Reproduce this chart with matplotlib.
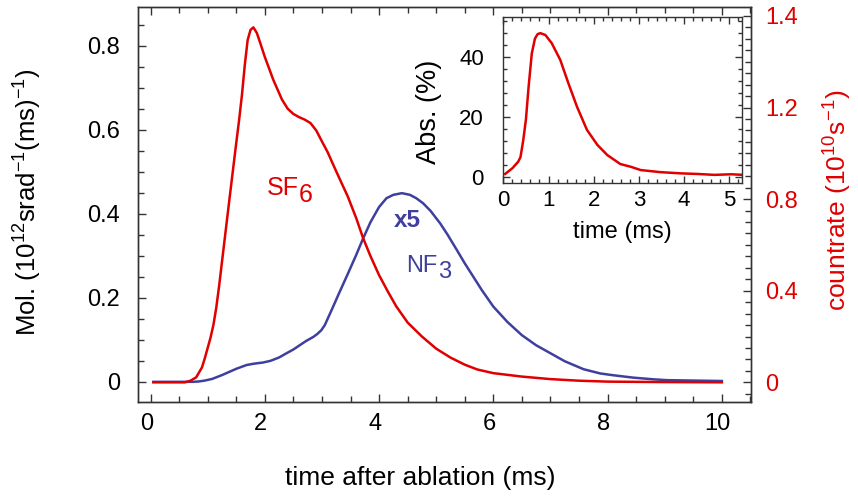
import matplotlib
matplotlib.use('Agg')
import matplotlib.pyplot as plt
import matplotlib.transforms as mtrans
from matplotlib.ticker import MultipleLocator, FixedLocator
import numpy as np

plt.rcParams['font.family'] = ['Liberation Sans', 'DejaVu Sans']
plt.rcParams['mathtext.default'] = 'regular'

RED  = '#e00000'
BLUE = '#3f3f9f'
DARK = '#333333'

# SF6 countrate (right axis, 10^10 s^-1)
sf6_t    = [0.05, 0.6, 0.7, 0.8, 0.9, 0.95, 1.0, 1.05, 1.1, 1.15, 1.2, 1.3, 1.4,
            1.5, 1.55, 1.6, 1.65, 1.7, 1.75, 1.8, 1.86, 1.92, 2.0, 2.15, 2.3,
            2.4, 2.5, 2.6, 2.7, 2.8, 2.9, 3.0, 3.1, 3.2, 3.32, 3.45, 3.6, 3.72,
            3.85, 4.0, 4.15, 4.3, 4.5, 4.75, 5.0, 5.25, 5.5, 5.72, 6.0, 6.5,
            7.0, 7.5, 8.0, 9.0, 10.0]
sf6_rate = [0.0, 0.0, 0.007, 0.022, 0.065, 0.105, 0.150, 0.195, 0.250, 0.325,
            0.420, 0.630, 0.839, 1.045, 1.145, 1.255, 1.386, 1.495, 1.539,
            1.550, 1.526, 1.482, 1.421, 1.320, 1.235, 1.195, 1.172, 1.158,
            1.147, 1.132, 1.100, 1.052, 1.005, 0.949, 0.883, 0.813, 0.717,
            0.630, 0.551, 0.468, 0.398, 0.332, 0.261, 0.200, 0.147, 0.108,
            0.077, 0.056, 0.040, 0.025, 0.014, 0.007, 0.003, 0.001, 0.0]

# NF3 molecules (left axis, scaled x5)
nf3_t   = [0.05, 0.75, 0.85, 0.95, 1.08, 1.25, 1.5, 1.68, 1.8, 1.97, 2.1, 2.25,
           2.38, 2.5, 2.61, 2.72, 2.85, 2.92, 2.99, 3.05, 3.1, 3.17, 3.3, 3.45,
           3.6, 3.72, 3.85, 4.0, 4.13, 4.25, 4.4, 4.54, 4.65, 4.77, 4.9, 5.07,
           5.2, 5.36, 5.5, 5.65, 5.8, 6.0, 6.25, 6.5, 6.75, 7.0, 7.25, 7.58,
           7.87, 8.08, 8.45, 8.8, 9.04, 9.51, 10.0]
nf3_mol = [0.0, 0.0, 0.001, 0.003, 0.007, 0.016, 0.031, 0.040, 0.043, 0.046,
           0.050, 0.058, 0.068, 0.077, 0.087, 0.097, 0.107, 0.114, 0.123,
           0.135, 0.150, 0.171, 0.211, 0.256, 0.302, 0.341, 0.380, 0.416,
           0.437, 0.445, 0.449, 0.445, 0.437, 0.425, 0.407, 0.377, 0.350,
           0.314, 0.282, 0.250, 0.218, 0.179, 0.142, 0.111, 0.087, 0.068,
           0.049, 0.030, 0.020, 0.016, 0.010, 0.006, 0.004, 0.003, 0.002]

# inset: absorption (%)
abs_t   = [0.04, 0.2, 0.33, 0.38, 0.44, 0.5, 0.56, 0.63, 0.7, 0.76, 0.82, 0.93,
           1.07, 1.26, 1.44, 1.63, 1.85, 2.08, 2.3, 2.59, 2.82, 3.04, 3.48,
           3.93, 4.3, 4.67, 5.04, 5.3]
abs_pct = [0.9, 2.8, 5.0, 6.5, 12.0, 19.0, 30.0, 41.0, 46.0, 47.5, 47.8, 47.2,
           44.5, 38.9, 31.1, 23.3, 15.6, 10.6, 7.2, 4.2, 3.3, 2.2, 1.5, 1.1,
           0.9, 0.6, 0.8, 0.6]

right_ticks  = [0, 0.4, 0.8, 1.2, 1.6]
right_labels = ['0', '0.4', '0.8', '1.2', '1.4']

fig = plt.figure(figsize=(8.58, 4.96), dpi=100)

#### main axes ####
ax = fig.add_axes([0.1608, 0.1895, 0.7145, 0.7964])
ax.plot(nf3_t, nf3_mol, color=BLUE, lw=1.8)
ax.set_xlim(-0.22, 10.51)
ax.set_ylim(-0.048, 0.892)
ax.xaxis.set_major_locator(MultipleLocator(2))
ax.xaxis.set_minor_locator(MultipleLocator(0.5))
ax.yaxis.set_major_locator(MultipleLocator(0.2))
ax.yaxis.set_minor_locator(MultipleLocator(0.05))
ax.yaxis.set_major_formatter(plt.FuncFormatter(lambda v, p: '0' if abs(v) < 1e-9 else '%.1f' % v))
ax.tick_params(which='both', direction='in', top=True, right=False,
               labelsize=17, color=DARK, width=1)
ax.tick_params(which='major', length=6)
ax.tick_params(which='minor', length=4)
ax.tick_params(axis='y', pad=13)
ax.tick_params(axis='x', pad=8)
offset = mtrans.ScaledTranslation(-4/100., 0, fig.dpi_scale_trans)
for lbl in ax.get_xticklabels():
    lbl.set_transform(lbl.get_transform() + offset)

# species labels, subscripts drawn full size and dropped a little
def species(x, y, main, sub, color, size):
    t = ax.text(x, y, main, color=color, fontsize=size, ha='left', va='baseline')
    ax.annotate(sub, xy=(1, 0), xycoords=t, xytext=(0.5, -4.8),
                textcoords='offset points', color=color, fontsize=size,
                ha='left', va='bottom')

species(2.03, 0.445, 'SF', '6', RED, 18)
species(4.48, 0.262, 'NF', '3', BLUE, 17)
ax.text(4.25, 0.368, 'x5', color=BLUE, fontsize=17.5, fontweight='bold',
        ha='left', va='baseline')

#### right axis for countrate ####
ax2 = ax.twinx()
ax2.plot(sf6_t, sf6_rate, color=RED, lw=1.8)
ax2.set_ylim(-0.086, 1.639)
ax2.yaxis.set_major_locator(FixedLocator(right_ticks))
ax2.set_yticklabels(right_labels)
ax2.yaxis.set_minor_locator(MultipleLocator(0.05))
ax2.tick_params(which='both', direction='in', labelsize=17, labelcolor=RED,
                color=DARK, width=1, pad=10)
ax2.tick_params(which='major', length=6)
ax2.tick_params(which='minor', length=4)

for a in (ax, ax2):
    for sp in a.spines.values():
        sp.set_color(DARK)
        sp.set_linewidth(1.0)

fig.text(27.5/858, 1 - 202/496, 'Mol. (10$^{12}$srad$^{-1}$(ms)$^{-1}$)',
         rotation=90, ha='center', va='center', fontsize=18.5)
fig.text(837.5/858, 1 - 200/496, 'countrate (10$^{10}$s$^{-1}$)',
         rotation=90, ha='center', va='center', fontsize=19, color=RED)
fig.text(420/858, 1 - 478/496, 'time after ablation (ms)',
         ha='center', va='center', fontsize=19)

#### inset ####
axin = fig.add_axes([0.5866, 0.6317, 0.2782, 0.3335])
axin.set_facecolor('white')
axin.plot(abs_t, abs_pct, color=RED, lw=1.8)
axin.set_xlim(0, 5.28)
axin.set_ylim(-2, 53.1)
axin.xaxis.set_major_locator(MultipleLocator(1))
axin.xaxis.set_minor_locator(MultipleLocator(0.2))
axin.yaxis.set_major_locator(MultipleLocator(20))
axin.yaxis.set_minor_locator(MultipleLocator(4))
axin.tick_params(which='both', direction='in', top=True, right=True,
                 labelsize=16, color=DARK, width=1)
axin.tick_params(which='major', length=5)
axin.tick_params(which='minor', length=3)
axin.tick_params(axis='y', pad=14)
axin.tick_params(axis='x', pad=5)
for sp in axin.spines.values():
    sp.set_color(DARK)
    sp.set_linewidth(1.0)

fig.text(429/858, 1 - 112/496, 'Abs. (%)', rotation=90, ha='center',
         va='center', fontsize=19.5)
fig.text(622/858, 1 - 232/496, 'time (ms)', ha='center', va='center',
         fontsize=17)

fig.savefig('out.png', dpi=100)
